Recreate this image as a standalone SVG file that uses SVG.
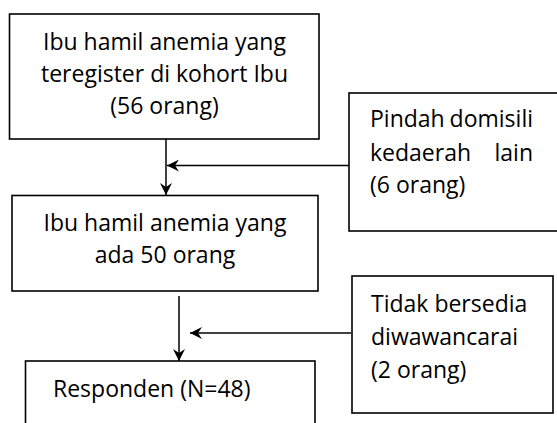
<svg xmlns="http://www.w3.org/2000/svg" width="557" height="423" viewBox="0 0 557 423">
<style>
.box{fill:#fff;stroke:#000;stroke-width:1.6}
.t{font-family:"Open Sans",Lato,"Liberation Sans",sans-serif;font-size:23px;fill:#000}
.c{text-anchor:middle}
.e{text-anchor:end}
.ln{stroke:#000;stroke-width:1.5;fill:none}
</style>
<defs>
<marker id="ah" markerWidth="12" markerHeight="12" viewBox="0 0 12 12" refX="12" refY="6" orient="auto" markerUnits="userSpaceOnUse">
<path d="M0,0 L12,6 L0,12 L4,6 z" fill="#000"/>
</marker>
</defs>
<rect width="557" height="423" fill="#fff"/>
<g id="node-kohort">
<rect class="box" x="9.5" y="14" width="309.5" height="125"/>
<text class="t c" x="164.5" y="50">Ibu hamil anemia yang</text>
<text class="t c" x="164.5" y="82">teregister di kohort Ibu</text>
<text class="t c" x="164.5" y="114">(56 orang)</text>
</g>
<g id="node-pindah">
<rect class="box" x="349" y="93" width="220" height="138"/>
<text class="t" x="370" y="127">Pindah</text>
<text class="t e" x="533" y="127">domisili</text>
<text class="t" x="370" y="160.5">kedaerah</text>
<text class="t e" x="533" y="160.5">lain</text>
<text class="t" x="370" y="193">(6 orang)</text>
</g>
<g id="node-ada50">
<rect class="box" x="12" y="195.5" width="306" height="95.5"/>
<text class="t c" x="165" y="230.5">Ibu hamil anemia yang</text>
<text class="t c" x="165" y="263">ada 50 orang</text>
</g>
<g id="node-tidak">
<rect class="box" x="352" y="276" width="201" height="137"/>
<text class="t" x="371" y="312">Tidak bersedia</text>
<text class="t" x="371" y="345">diwawancarai</text>
<text class="t" x="371" y="378">(2 orang)</text>
</g>
<g id="node-responden">
<rect class="box" x="25.5" y="361" width="289.5" height="90"/>
<text class="t" x="53" y="396.5">Responden (N=48)</text>
</g>
<g id="connectors">
<line class="ln" x1="166" y1="139" x2="166" y2="195" marker-end="url(#ah)"/>
<line class="ln" x1="349" y1="165.5" x2="167" y2="165.5" marker-end="url(#ah)"/>
<line class="ln" x1="179" y1="296" x2="179" y2="361" marker-end="url(#ah)"/>
<line class="ln" x1="351" y1="333" x2="190" y2="333" marker-end="url(#ah)"/>
</g>
</svg>
